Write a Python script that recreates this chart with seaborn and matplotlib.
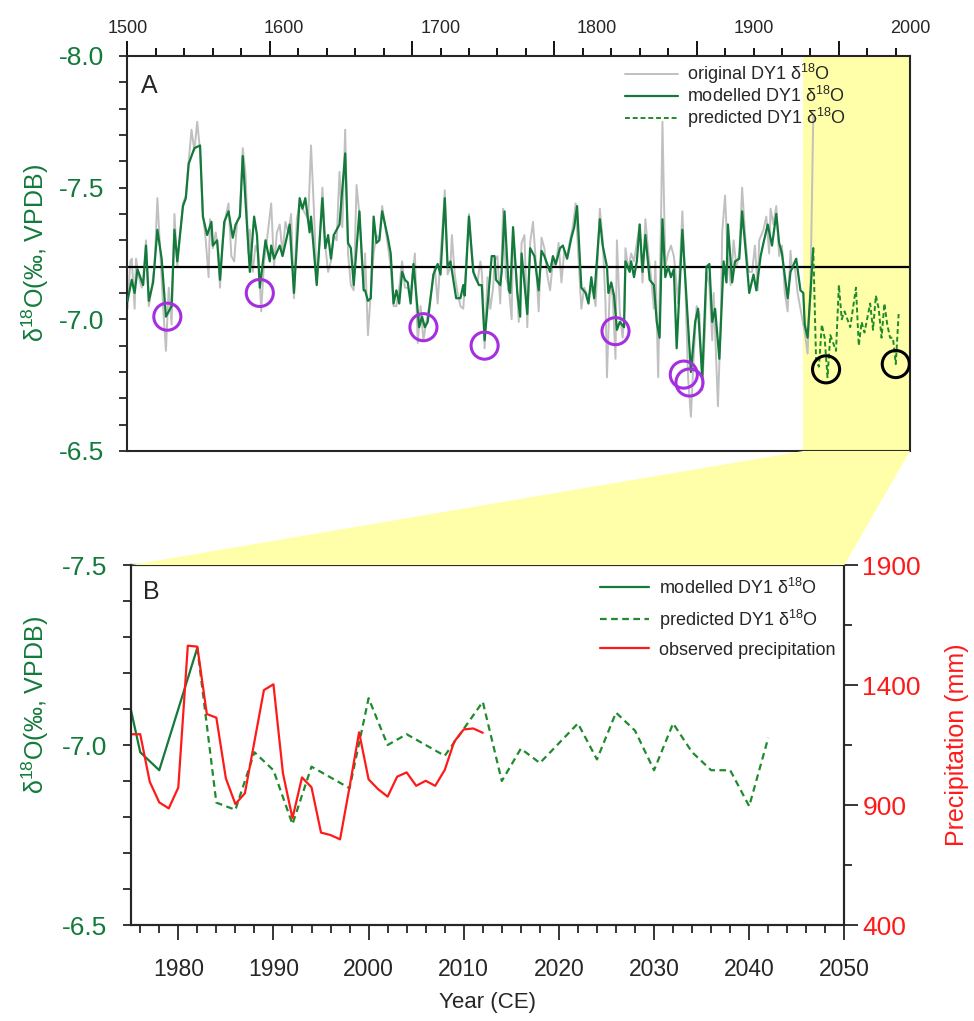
import matplotlib
matplotlib.use("Agg")
import matplotlib.pyplot as plt
from matplotlib.ticker import MultipleLocator, FixedLocator
from matplotlib.patches import Polygon
import seaborn as sns
import numpy as np

# ---- data ----
# original DY1 d18O (grey)
orig_years = [1500, 1502, 1503, 1505, 1506, 1508, 1510, 1511, 1513, 1515, 1517, 1519, 1521, 1523, 1525, 1527,
              1529, 1531, 1533, 1535, 1537, 1539, 1541, 1543, 1545, 1547, 1549, 1551, 1553, 1555, 1557, 1558,
              1560, 1562, 1564, 1565, 1567, 1569, 1571, 1573, 1575, 1577, 1579, 1581,
              1583, 1585, 1586, 1588, 1590, 1592, 1594, 1596, 1598, 1601, 1603, 1605, 1607, 1609, 1611, 1613,
              1615, 1617, 1619, 1621, 1623, 1625, 1627, 1629, 1631, 1633, 1635, 1637, 1639, 1641, 1643, 1645,
              1647, 1649, 1651, 1653, 1655, 1657, 1659, 1661, 1663,
              1665, 1666, 1667, 1669, 1671, 1673, 1675, 1677, 1679, 1681, 1683, 1685, 1687, 1689, 1691, 1693,
              1695, 1697, 1699, 1702, 1704, 1706, 1708, 1710, 1712, 1714, 1716, 1718, 1720, 1722, 1723, 1725,
              1727, 1728, 1730, 1732, 1734, 1736, 1738, 1740, 1742,
              1744, 1746, 1748, 1749, 1750, 1751, 1753, 1755, 1757, 1758, 1760, 1762, 1764, 1766, 1768, 1770,
              1771, 1773, 1775, 1777, 1779, 1781, 1783, 1785, 1787, 1789, 1791, 1793, 1795, 1797, 1799, 1801,
              1803, 1805, 1807, 1809, 1811, 1813, 1815, 1817, 1819, 1821, 1823,
              1825, 1827, 1829, 1832, 1834, 1836, 1837, 1839, 1841, 1843, 1844, 1846, 1848, 1849, 1850, 1852,
              1854, 1856, 1858, 1860, 1862, 1864, 1866, 1868, 1870, 1871, 1873, 1875, 1876, 1878, 1880, 1882,
              1884, 1885, 1887, 1890, 1892, 1894, 1896, 1898, 1900, 1902, 1904,
              1906, 1907, 1909, 1911, 1912, 1915, 1917, 1918, 1920, 1922, 1924, 1926, 1928, 1930, 1932, 1934,
              1936, 1937, 1939, 1941, 1943, 1944, 1947, 1949, 1951, 1952, 1954, 1956, 1958, 1960, 1962, 1964,
              1966, 1967, 1969, 1971, 1973, 1975, 1976, 1978, 1979, 1980, 1982]
orig_d18o = [-7.04, -7.22, -7.23, -7.04, -7.23, -7.16, -7.12, -7.15, -7.30, -7.05, -7.12, -7.20, -7.46, -7.26, -7.05, -6.88,
             -7.12, -6.98, -7.40, -7.20, -7.33, -7.44, -7.47, -7.60, -7.72, -7.64, -7.75, -7.64, -7.40, -7.30, -7.16, -7.38,
             -7.27, -7.33, -7.25, -7.12, -7.30, -7.39, -7.44, -7.24, -7.22, -7.37, -7.40, -7.65,
             -7.55, -7.25, -7.34, -7.18, -7.28, -7.25, -7.03, -7.22, -7.30, -7.44, -7.20, -7.33, -7.36, -7.25, -7.37, -7.33,
             -7.40, -7.08, -7.38, -7.44, -7.42, -7.40, -7.38, -7.66, -7.42, -7.14, -7.30, -7.50, -7.28, -7.18, -7.22, -7.32,
             -7.30, -7.56, -7.35, -7.72, -7.25, -7.13, -7.11, -7.51, -7.40,
             -7.20, -7.12, -7.25, -6.94, -7.10, -7.25, -7.32, -7.30, -7.43, -7.36, -7.28, -7.20, -7.05, -7.05, -7.12, -7.22,
             -7.12, -7.12, -7.10, -7.25, -6.91, -7.05, -6.92, -6.99, -7.05, -7.12, -7.20, -7.06, -7.24, -7.40, -7.49, -7.17,
             -7.20, -7.32, -7.17, -7.10, -7.05, -7.04, -7.20, -7.40, -7.25,
             -7.16, -7.14, -7.22, -7.18, -7.08, -6.89, -7.16, -7.04, -7.12, -7.22, -7.24, -7.06, -7.42, -7.16, -7.12, -7.00,
             -7.32, -7.19, -6.99, -7.29, -7.32, -6.97, -7.29, -7.37, -7.22, -7.03, -7.31, -7.27, -7.17, -7.11, -7.22, -7.20,
             -7.29, -7.14, -7.26, -7.24, -7.30, -7.35, -7.44, -7.23, -7.04, -7.12, -7.09,
             -7.10, -7.12, -7.05, -7.42, -7.30, -7.06, -6.78, -7.12, -7.09, -6.85, -7.30, -7.03, -6.93, -7.00, -7.27, -7.19,
             -7.25, -7.22, -7.29, -7.36, -7.14, -7.38, -7.26, -7.16, -7.04, -7.22, -6.78, -7.38, -7.75, -7.20, -7.25, -7.28,
             -7.24, -7.19, -7.06, -7.41, -7.14, -6.78, -6.63, -6.86, -7.05, -7.02, -6.73,
             -6.98, -7.18, -7.13, -6.92, -7.10, -6.67, -7.00, -7.33, -7.47, -7.23, -7.13, -7.30, -7.20, -7.25, -7.50, -7.33,
             -7.20, -7.18, -7.18, -7.28, -7.11, -7.30, -7.34, -7.39, -7.25, -7.42, -7.36, -7.43, -7.24, -7.28, -7.10, -7.03,
             -7.26, -7.19, -7.20, -7.10, -7.04, -6.98, -6.95, -6.87, -7.00, -7.10, -7.77]

# modelled DY1 d18O (green solid)
model_years = [1500, 1503, 1505, 1507, 1511, 1513, 1515, 1518, 1521, 1524, 1527, 1530, 1531, 1533, 1535, 1539,
               1541, 1543, 1547, 1551, 1553, 1556, 1559, 1560, 1563, 1565, 1568, 1571, 1574, 1576, 1579, 1581,
               1586, 1589, 1591, 1593, 1597, 1600, 1601, 1603, 1607, 1609, 1614, 1617, 1621, 1623, 1625, 1628,
               1629, 1633, 1637, 1639, 1641, 1643, 1645, 1649, 1653, 1655, 1657, 1659, 1663,
               1666, 1667, 1669, 1671, 1673, 1675, 1677, 1679, 1683, 1685, 1687, 1689, 1691, 1693, 1695, 1697,
               1699, 1701, 1705, 1707, 1709, 1711, 1715, 1718, 1720, 1723, 1725, 1727, 1731, 1734, 1736, 1737,
               1740, 1743,
               1747, 1749, 1751, 1756, 1758, 1759, 1762, 1763, 1765, 1768, 1769, 1771, 1774, 1776, 1777, 1781,
               1783, 1786, 1789, 1791, 1793, 1797, 1799, 1801, 1804, 1806, 1809, 1812, 1814, 1816, 1819, 1822,
               1824,
               1826, 1828, 1832, 1834, 1837, 1838, 1840, 1842, 1844, 1846, 1849, 1850, 1853, 1854, 1856, 1858,
               1860, 1862, 1864, 1867, 1870, 1872, 1874, 1876, 1878, 1880, 1882, 1884, 1886, 1890, 1896, 1899,
               1901, 1904,
               1907, 1909, 1911, 1913, 1916, 1919, 1921, 1922, 1925, 1927, 1930, 1932, 1935, 1937, 1940, 1942,
               1945, 1947, 1950, 1953, 1956, 1958, 1960, 1964, 1966, 1970, 1973, 1975, 1976, 1978, 1982]
model_d18o = [-7.07, -7.15, -7.10, -7.19, -7.13, -7.28, -7.07, -7.14, -7.34, -7.23, -7.01, -7.04, -7.05, -7.34, -7.22, -7.43,
              -7.46, -7.59, -7.65, -7.66, -7.39, -7.32, -7.37, -7.28, -7.30, -7.15, -7.37, -7.41, -7.31, -7.36, -7.39, -7.62,
              -7.18, -7.39, -7.32, -7.12, -7.30, -7.22, -7.28, -7.23, -7.28, -7.24, -7.36, -7.10, -7.46, -7.42, -7.46, -7.33,
              -7.39, -7.13, -7.46, -7.27, -7.32, -7.23, -7.32, -7.36, -7.63, -7.29, -7.27, -7.13, -7.41,
              -7.11, -7.11, -7.07, -7.08, -7.39, -7.29, -7.30, -7.41, -7.31, -7.25, -7.06, -7.11, -7.06, -7.18, -7.15, -7.14,
              -7.06, -7.21, -6.97, -7.01, -6.97, -6.99, -7.17, -7.21, -7.17, -7.46, -7.20, -7.22, -7.08, -7.08, -7.13, -7.09,
              -7.39, -7.18,
              -7.13, -7.13, -6.92, -7.24, -7.24, -7.15, -7.13, -7.18, -7.41, -7.11, -7.10, -7.35, -7.10, -7.01, -7.25, -7.02,
              -7.27, -7.24, -7.11, -7.26, -7.24, -7.18, -7.24, -7.21, -7.27, -7.28, -7.23, -7.31, -7.35, -7.43, -7.12, -7.10,
              -7.06,
              -7.16, -7.08, -7.38, -7.28, -7.20, -7.10, -7.14, -7.09, -6.96, -6.99, -6.97, -7.22, -7.18, -7.22, -7.16, -7.22,
              -7.36, -7.18, -7.32, -7.15, -7.13, -6.99, -6.93, -7.38, -7.16, -7.20, -7.16, -7.19, -6.89, -7.34, -6.80, -6.99,
              -7.04, -6.78,
              -7.20, -7.21, -6.99, -7.04, -6.85, -7.22, -7.14, -7.36, -7.14, -7.22, -7.23, -7.41, -7.23, -7.10, -7.17, -7.11,
              -7.24, -7.29, -7.36, -7.28, -7.40, -7.29, -7.25, -7.08, -7.18, -7.23, -7.11, -7.10, -6.98, -6.93, -7.27]

# predicted DY1 d18O (green dashed)
pred_years = [1982, 1984, 1986, 1988, 1990, 1992, 1994, 1998, 2000, 2002, 2004, 2008, 2012, 2014,
              2016, 2018, 2022, 2024, 2026, 2028, 2030, 2032, 2034, 2036, 2038, 2040, 2042]
pred_d18o = [-7.27, -6.84, -6.82, -6.98, -6.93, -6.78, -6.94, -6.88, -7.13, -7.00, -7.03, -6.97, -7.12, -6.90,
             -6.99, -6.95, -7.06, -6.96, -7.09, -7.04, -6.93, -7.06, -6.98, -6.93, -6.93, -6.83, -7.02]

# observed precipitation (mm)
precip_years = list(range(1975, 2013))
precip_mm = [1195, 1195, 997, 911, 886, 973, 1564, 1560, 1279, 1264, 1011, 904, 949, 1164, 1379, 1403,
             1032, 845, 1015, 974, 785, 775, 757, 975, 1203, 1007, 966, 935, 1018, 1036, 980, 1001,
             980, 1046, 1164, 1215, 1219, 1201]

# circled minima
purple_years = [1528, 1593, 1708, 1751, 1843, 1891, 1895]
purple_d18o = [-7.01, -7.10, -6.97, -6.90, -6.955, -6.79, -6.76]
black_years = [1991, 2040]
black_d18o = [-6.81, -6.83]

mean_d18o = -7.2
top_labels = [1500, 1600, 1700, 1800, 1900, 2000]
precip_ticks = [400, 900, 1400, 1900]

# ---- style ----
sns.set_theme(style="ticks")
plt.rcParams['font.family'] = ['Liberation Sans', 'DejaVu Sans']
plt.rcParams['mathtext.fontset'] = 'custom'
plt.rcParams['mathtext.rm'] = 'Liberation Sans'
plt.rcParams['mathtext.it'] = 'Liberation Sans:italic'
plt.rcParams['mathtext.bf'] = 'Liberation Sans:bold'
plt.rcParams['mathtext.default'] = 'regular'
plt.rcParams['axes.linewidth'] = 1.5

GREEN = '#137a3b'
GREEN_D = '#1f8b2c'
GREY = '#c0c0c0'
RED = '#ff1a1a'
PURPLE = '#a52fe0'
YELLOW = '#ffffaa'
LBL = 'δ$^{18}$O(‰, VPDB)'

fig = plt.figure(figsize=(9.74, 10.21), dpi=100)
ax_a = fig.add_axes([0.1309, 0.5583, 0.8034, 0.3869])
ax_b = fig.add_axes([0.1342, 0.0940, 0.7327, 0.3526])

# top tick labels as printed in the original figure (labels only)
ax_top = ax_a.twiny()
ax_top.set_xlim(1500, 2000)
ax_top.set_xticks(top_labels)
ax_top.tick_params(axis='x', which='both', length=0, pad=14, labelsize=13)
for sp in ax_top.spines.values():
    sp.set_visible(False)

# ---- panel A ----
ax_a.axvspan(1975, 2050, color=YELLOW, lw=0, zorder=0)
sns.lineplot(x=orig_years, y=orig_d18o, ax=ax_a, color=GREY, lw=1.4, estimator=None, sort=False,
             label='original DY1 δ$^{18}$O', zorder=2)
ax_a.axhline(mean_d18o, color='black', lw=1.6, zorder=2.5)
sns.lineplot(x=model_years, y=model_d18o, ax=ax_a, color=GREEN, lw=1.6, estimator=None, sort=False,
             label='modelled DY1 δ$^{18}$O', zorder=3)
sns.lineplot(x=pred_years, y=pred_d18o, ax=ax_a, color=GREEN_D, lw=1.4, estimator=None, sort=False,
             linestyle=(0, (2.5, 1.5)), label='predicted DY1 δ$^{18}$O', zorder=3)
ax_a.scatter(purple_years, purple_d18o, s=380, facecolors='none', edgecolors=PURPLE, linewidths=2.2, zorder=4)
ax_a.scatter(black_years, black_d18o, s=380, facecolors='none', edgecolors='black', linewidths=2.2, zorder=4)

ax_a.set_xlim(1500, 2050)
ax_a.set_ylim(-6.5, -8.0)
ax_a.xaxis.set_major_locator(MultipleLocator(100))
ax_a.xaxis.set_minor_locator(MultipleLocator(20))
ax_a.yaxis.set_major_locator(MultipleLocator(0.5))
ax_a.yaxis.set_minor_locator(MultipleLocator(0.1))
ax_a.yaxis.set_major_formatter(plt.FuncFormatter(lambda v, p: f"{v:.1f}"))
ax_a.tick_params(axis='x', which='both', top=True, bottom=False, labeltop=False, labelbottom=False,
                 direction='out', width=1.3, color='black')
ax_a.tick_params(axis='x', which='major', length=11)
ax_a.tick_params(axis='x', which='minor', length=6)
ax_a.tick_params(axis='y', which='both', left=True, right=False, direction='out', width=1.3,
                 length=6, pad=11, labelsize=19, labelcolor=GREEN)
ax_a.set_ylabel(LBL, fontsize=18, color=GREEN)
ax_a.yaxis.set_label_coords(-0.098, 0.5)
ax_a.set_xlabel('')
ax_a.text(0.017, 0.925, 'A', transform=ax_a.transAxes, fontsize=18, va='center', ha='left')
ax_a.legend(loc='upper left', bbox_to_anchor=(0.636, 0.985), frameon=False, fontsize=13,
            handlelength=2.9, handletextpad=0.5, labelspacing=0.0, borderpad=0, borderaxespad=0)

# ---- panel B ----
sns.lineplot(x=model_years, y=model_d18o, ax=ax_b, color=GREEN, lw=1.6, estimator=None, sort=False,
             label='modelled DY1 δ$^{18}$O')
sns.lineplot(x=pred_years, y=pred_d18o, ax=ax_b, color=GREEN_D, lw=1.6, estimator=None, sort=False,
             linestyle=(0, (3, 2)), label='predicted DY1 δ$^{18}$O')
ax_b.set_xlim(1975, 2050)
ax_b.set_ylim(-6.5, -7.5)
ax_b.xaxis.set_major_locator(MultipleLocator(10))
ax_b.xaxis.set_minor_locator(MultipleLocator(2))
ax_b.yaxis.set_major_locator(MultipleLocator(0.5))
ax_b.yaxis.set_minor_locator(MultipleLocator(0.1))
ax_b.yaxis.set_major_formatter(plt.FuncFormatter(lambda v, p: f"{v:.1f}"))
ax_b.tick_params(axis='x', which='both', direction='out', width=1.3, labelsize=16.5, pad=13)
ax_b.tick_params(axis='x', which='major', length=11)
ax_b.tick_params(axis='x', which='minor', length=6)
ax_b.tick_params(axis='y', which='both', direction='out', width=1.3, length=6, pad=11,
                 labelsize=19, labelcolor=GREEN)
ax_b.set_ylabel(LBL, fontsize=18, color=GREEN)
ax_b.yaxis.set_label_coords(-0.112, 0.61)
ax_b.set_xlabel('Year (CE)', fontsize=16)
ax_b.xaxis.set_label_coords(0.5, -0.185)
ax_b.text(0.017, 0.925, 'B', transform=ax_b.transAxes, fontsize=18, va='center', ha='left')

ax_p = ax_b.twinx()
sns.lineplot(x=precip_years, y=precip_mm, ax=ax_p, color=RED, lw=1.6, estimator=None, sort=False,
             label='observed precipitation')
ax_p.set_ylim(400, 1900)
ax_p.yaxis.set_major_locator(FixedLocator(precip_ticks))
ax_p.yaxis.set_minor_locator(MultipleLocator(250, offset=150))
ax_p.tick_params(axis='y', which='both', direction='out', width=1.3, labelsize=19, labelcolor=RED, pad=3)
ax_p.tick_params(axis='y', which='major', length=10)
ax_p.tick_params(axis='y', which='minor', length=6)
ax_p.set_ylabel('Precipitation (mm)', fontsize=18, color=RED)
ax_p.yaxis.set_label_coords(1.141, 0.5)

h1, l1 = ax_b.get_legend_handles_labels()
h2, l2 = ax_p.get_legend_handles_labels()
ax_p.get_legend().remove()
ax_b.legend(h1 + h2, l1 + l2, loc='upper left', bbox_to_anchor=(0.658, 0.965), frameon=False, fontsize=13,
            handlelength=2.7, handletextpad=0.55, labelspacing=0.55, borderpad=0, borderaxespad=0)

# ---- yellow zoom band between panels ----
inv = fig.transFigure.inverted()
p1 = inv.transform(ax_a.transData.transform((1975, -6.5)))
p2 = inv.transform(ax_a.transData.transform((2050, -6.5)))
p3 = inv.transform(ax_b.transData.transform((2050, -7.5)))
p4 = inv.transform(ax_b.transData.transform((1975, -7.5)))
fig.patches.append(Polygon([p1, p2, p3, p4], closed=True, transform=fig.transFigure,
                           facecolor=YELLOW, edgecolor='none', zorder=0))

fig.savefig('out.png', dpi=100)
